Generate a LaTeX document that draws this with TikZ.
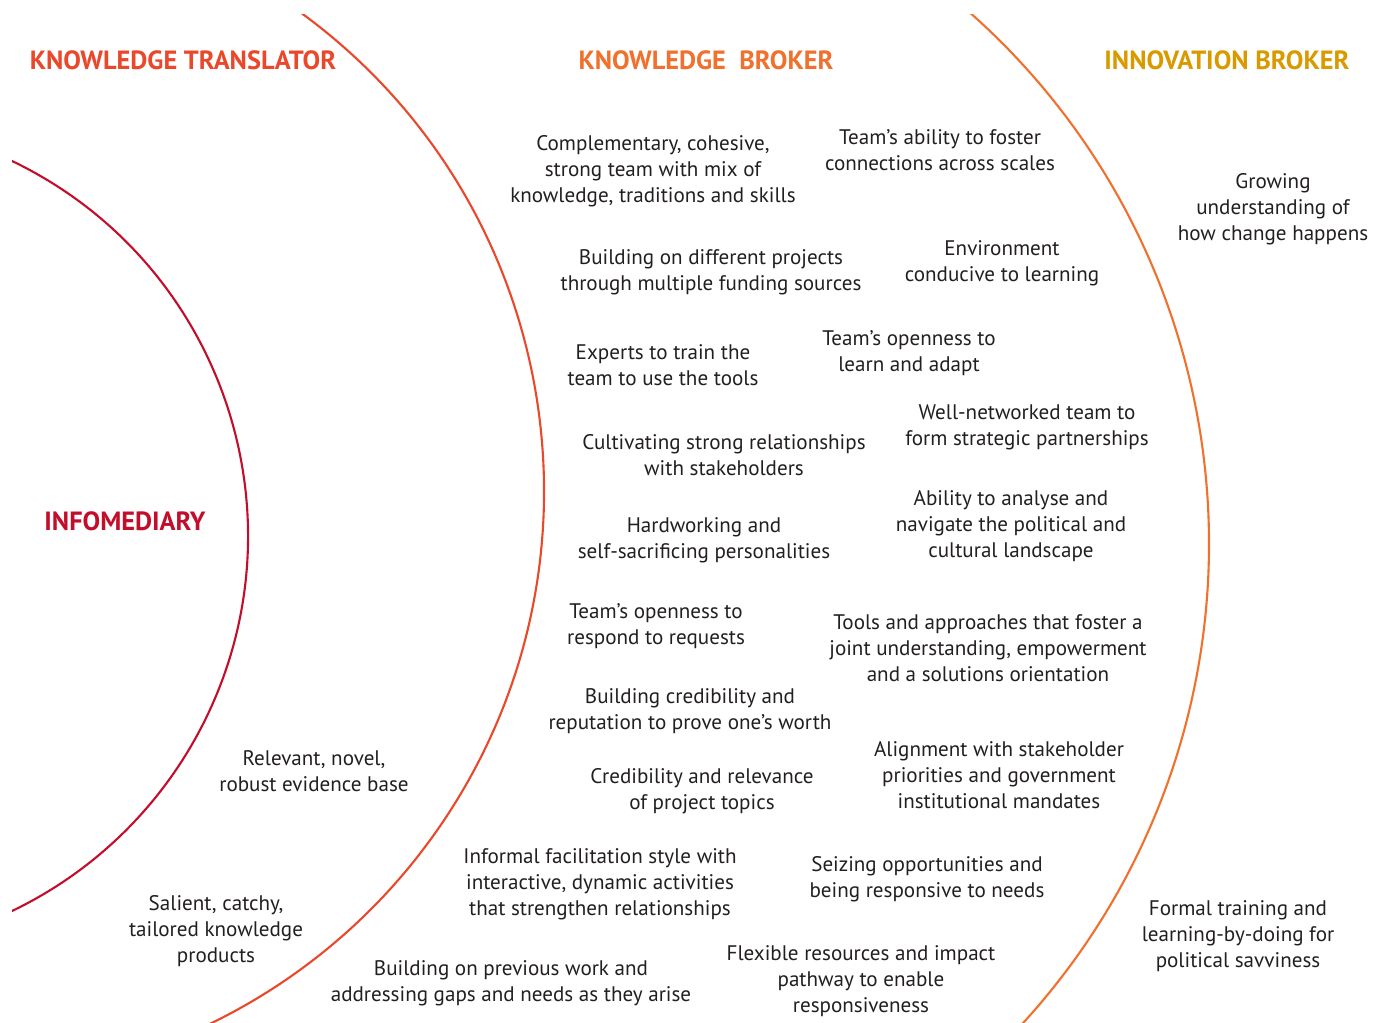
\documentclass[tikz,border=0pt]{standalone}
\usepackage{fontspec}
\setmainfont{PT Sans}
\definecolor{infored}{HTML}{C20E2B}
\definecolor{transred}{HTML}{E9482B}
\definecolor{brokorange}{HTML}{F0702D}
\definecolor{innogold}{HTML}{D99A00}
\definecolor{txtgray}{HTML}{231F20}
\begin{document}
\begin{tikzpicture}[x=0.02cm,y=-0.02cm,line cap=round,
  txt/.style={align=center,inner sep=0pt,yshift=-1.1pt,text=txtgray,font=\fontsize{12}{14.8}\selectfont},
  hdr/.style={inner sep=0pt,font=\fontsize{15}{18}\selectfont\bfseries}]
 \useasboundingbox (0,0) rectangle (1374,1023);
 \clip (12,15) rectangle (1374,1023);
 % the three arcs
 \draw[infored,line width=1.2pt] (-168,536) ++(-64.4:416) arc[start angle=-64.4,end angle=64.4,radius=416];
 \draw[transred,line width=1.2pt] (-48,491) ++(-55:592) arc[start angle=-55,end angle=66,radius=592];
 \draw[brokorange,line width=1.2pt] (499,544) ++(-50:710) arc[start angle=-50,end angle=44,radius=710];
 % headings
 \node[hdr,transred] (kt) at (183,60) {KNOWLEDGE TRANSLATOR};
 \node[hdr,brokorange] (kb) at (706,60) {KNOWLEDGE\ \ BROKER};
 \node[hdr,innogold] (ib) at (1227,60) {INNOVATION BROKER};
 \node[hdr,infored] (im) at (125,521) {INFOMEDIARY};
 % infomediary / translator
 \node[txt] (relevant) at (314,769) {Relevant, novel,\\robust evidence base};
 \node[txt] (salient) at (216,929) {Salient, catchy,\\tailored knowledge\\products};
 % knowledge broker, left column
 \node[txt] (team) at (653,169) {Complementary, cohesive,\\strong team with mix of\\knowledge, traditions and skills};
 \node[txt] (projects) at (711,270) {Building on different projects\\through multiple funding sources};
 \node[txt] (experts) at (663,363) {Experts to train the\\team to use the tools};
 \node[txt] (cultivate) at (724,453) {Cultivating strong relationships\\with stakeholders};
 \node[txt] (hardwork) at (704,538) {Hardworking and\\self-sacrificing personalities};
 \node[txt] (requests) at (656,624) {Team's openness to\\respond to requests};
 \node[txt] (credible) at (690,709) {Building credibility and\\reputation to prove one's worth};
 \node[txt] (topics) at (702,789) {Credibility and relevance\\of project topics};
 \node[txt] (informal) at (600,882) {Informal facilitation style with\\interactive, dynamic activities\\that strengthen relationships};
 \node[txt] (previous) at (511,981) {Building on previous work and\\addressing gaps and needs as they arise};
 % knowledge broker, right column
 \node[txt] (scales) at (940,148) {Team's ability to foster\\connections across scales};
 \node[txt] (environ) at (1002,261) {Environment\\conducive to learning};
 \node[txt] (adapt) at (909,351) {Team's openness to\\learn and adapt};
 \node[txt] (network) at (1027,425) {Well-networked team to\\form strategic partnerships};
 \node[txt] (political) at (1011,524) {Ability to analyse and\\navigate the political and\\cultural landscape};
 \node[txt] (tools) at (988,646) {Tools and approaches that foster a\\joint understanding, empowerment\\and a solutions orientation};
 \node[txt] (align) at (999,773) {Alignment with stakeholder\\priorities and government\\institutional mandates};
 \node[txt] (seize) at (927,877) {Seizing opportunities and\\being responsive to needs};
 \node[txt] (flexible) at (861,979) {Flexible resources and impact\\pathway to enable\\responsiveness};
 % innovation broker
 \node[txt] (growing) at (1273,207) {Growing\\understanding of\\how change happens};
 \node[txt] (formal) at (1238,934) {Formal training and\\learning-by-doing for\\political savviness};
\end{tikzpicture}
\end{document}
